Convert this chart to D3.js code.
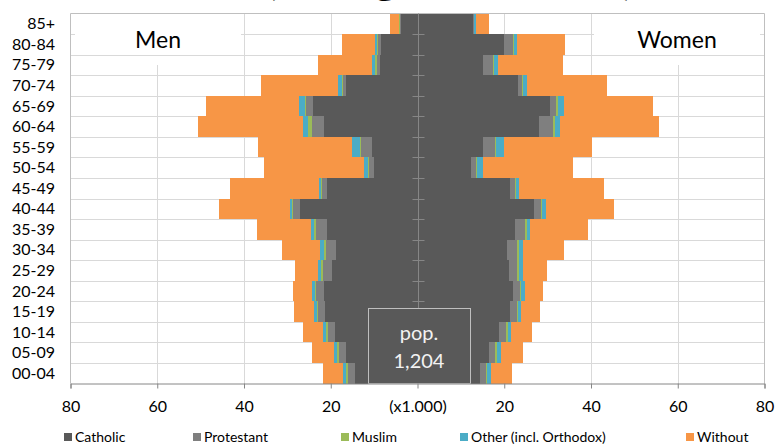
<!DOCTYPE html>
<html>
<head>
<meta charset="utf-8">
<script src="https://cdn.jsdelivr.net/npm/d3@7"></script>
<style>
	body { margin: 0; background: #fff; }
	text { font-family: Lato, "Open Sans", sans-serif; }
</style>
</head>
<body>
<div id="chart-area"></div>
<script>
/*
*    population pyramid by religion
*/
var ageGroups = ["00-04", "05-09", "10-14", "15-19", "20-24", "25-29", "30-34", "35-39", "40-44",
	"45-49", "50-54", "55-59", "60-64", "65-69", "70-74", "75-79", "80-84", "85+"];
var religions = ["Catholic", "Protestant", "Muslim", "Other (incl. Orthodox)", "Without"];
var colors = ["#595959", "#7f7f7f", "#9bbb59", "#4bacc6", "#f79646"];

// men, x 1.000
var menCatholic   = [14.3, 16.4, 19.1, 21.4, 21.6, 19.7, 18.9, 20.9, 27.0, 20.8, 10.0, 10.5, 21.6, 24.0, 16.4, 8.7, 8.5, 3.9];
var menProtestant = [1.7, 1.6, 1.55, 1.55, 1.7, 2.1, 2.15, 2.6, 1.6, 1.15, 1.15, 2.45, 2.8, 1.6, 0.85, 0.75, 0.6, 0.2];
var menMuslim     = [0.4, 0.45, 0.35, 0.3, 0.3, 0.35, 0.55, 0.4, 0.3, 0.25, 0.35, 0.4, 0.75, 0.45, 0.25, 0.25, 0.25, 0.05];
var menOther      = [0.85, 0.8, 0.8, 0.6, 0.8, 0.8, 0.85, 0.6, 0.55, 0.55, 0.8, 1.75, 1.3, 1.3, 0.85, 0.85, 0.45, 0.15];
var menWithout    = [4.5, 5.1, 4.6, 4.6, 4.3, 5.3, 8.9, 12.6, 16.4, 20.5, 23.1, 21.7, 24.2, 21.4, 17.7, 12.4, 7.5, 2.0];

// women, x 1.000
var womenCatholic   = [14.5, 16.4, 18.9, 21.4, 22.1, 21.1, 20.6, 22.4, 26.8, 21.4, 12.3, 15.0, 28.1, 30.5, 23.1, 15.2, 19.9, 12.7];
var womenProtestant = [1.2, 1.55, 1.55, 1.55, 1.55, 1.9, 2.25, 2.45, 1.7, 1.1, 1.1, 2.9, 3.2, 1.5, 1.1, 2.2, 2.15, 0.25];
var womenMuslim     = [0.4, 0.4, 0.3, 0.3, 0.25, 0.4, 0.45, 0.3, 0.15, 0.15, 0.35, 0.3, 0.3, 0.3, 0.15, 0.15, 0.15, 0.05];
var womenOther      = [0.85, 1.0, 0.9, 0.6, 0.8, 0.85, 1.1, 0.9, 0.9, 0.85, 1.25, 1.85, 1.3, 1.4, 0.85, 1.0, 0.85, 0.4];
var womenWithout    = [4.85, 4.9, 4.85, 4.5, 4.3, 5.5, 9.3, 13.2, 15.8, 19.5, 20.8, 20.1, 22.8, 20.7, 18.4, 15.0, 11.0, 3.1];

var xTicks = [-80, -60, -40, -20, 0, 20, 40, 60, 80];
var popLabel = ["pop.", "1,204"];

var width = 775, height = 445;
var plotLeft = 70.5, plotRight = 764.5, plotTop = 13.5, plotBottom = 383.5;

var svg = d3.select("#chart-area").append("svg")
		.attr("width", width)
		.attr("height", height);

var x = d3.scaleLinear()
		.domain([-80, 80])
		.range([plotLeft, plotRight]);
var y = d3.scaleBand()
		.domain(ageGroups.slice().reverse())
		.range([plotTop, plotBottom])
		.padding(0);

function table(cols) {
	return ageGroups.map((a, i) => {
		var row = {age: a};
		religions.forEach((r, j) => { row[r] = cols[j][i]; });
		return row;
	});
}
var stack = d3.stack().keys(religions);
var menStack = stack(table([menCatholic, menProtestant, menMuslim, menOther, menWithout]));
var womenStack = stack(table([womenCatholic, womenProtestant, womenMuslim, womenOther, womenWithout]));

function rowLine(d) { return Math.round(y(d) + y.bandwidth()) + 0.5; }

// title (cut off at top of picture)
svg.append("text")
		.attr("x", 267)
		.attr("y", -4)
		.attr("font-size", 30)
		.attr("font-weight", "bold")
		.attr("textLength", 366)
		.attr("lengthAdjust", "spacingAndGlyphs")
		.text("(Average 2010\u20132014)");

// grid
var grid = svg.append("g").attr("stroke", "#d9d9d9").attr("stroke-width", 1);
grid.selectAll(".hg")
	.data(ageGroups.slice(1))
	.enter().append("line")
		.attr("x1", plotLeft).attr("x2", plotRight)
		.attr("y1", rowLine)
		.attr("y2", rowLine);
grid.selectAll(".vg")
	.data([-60, -40, -20, 20, 40, 60])
	.enter().append("line")
		.attr("x1", d => Math.round(x(d)) + 0.5).attr("x2", d => Math.round(x(d)) + 0.5)
		.attr("y1", plotTop).attr("y2", plotBottom);

// white boxes behind Men / Women
svg.append("rect")
		.attr("x", 75).attr("y", 14).attr("width", 166).attr("height", 51)
		.attr("fill", "#fff");
svg.append("rect")
		.attr("x", 594).attr("y", 14).attr("width", 166).attr("height", 51)
		.attr("fill", "#fff");
svg.append("line")
		.attr("x1", plotLeft).attr("x2", plotRight)
		.attr("y1", rowLine("80-84")).attr("y2", rowLine("80-84"))
		.attr("stroke", "#d9d9d9");

// plot border
svg.append("path")
		.attr("d", "M" + plotLeft + "," + plotBottom + "V" + plotTop + "H" + plotRight + "V" + plotBottom)
		.attr("fill", "none")
		.attr("stroke", "#bfbfbf");

// bars
var bars = svg.append("g").attr("shape-rendering", "crispEdges");
bars.selectAll(".men")
	.data(menStack)
	.enter().append("g")
		.attr("fill", (d, i) => colors[i])
	.selectAll("rect")
	.data(d => d)
	.enter().append("rect")
		.attr("x", d => x(-d[1]))
		.attr("width", d => x(-d[0]) - x(-d[1]))
		.attr("y", d => y(d.data.age))
		.attr("height", y.bandwidth());
bars.selectAll(".women")
	.data(womenStack)
	.enter().append("g")
		.attr("fill", (d, i) => colors[i])
	.selectAll("rect")
	.data(d => d)
	.enter().append("rect")
		.attr("x", d => x(d[0]))
		.attr("width", d => x(d[1]) - x(d[0]))
		.attr("y", d => y(d.data.age))
		.attr("height", y.bandwidth());

// center axis
var cx = Math.round(x(0)) + 0.5;
svg.append("line")
		.attr("x1", cx).attr("x2", cx)
		.attr("y1", plotTop).attr("y2", plotBottom)
		.attr("stroke", "#868686");
svg.selectAll(".ctick")
	.data(ageGroups.slice(1))
	.enter().append("line")
		.attr("x1", cx - 6).attr("x2", cx + 6)
		.attr("y1", rowLine)
		.attr("y2", rowLine)
		.attr("stroke", "#868686");

// pop box
svg.append("rect")
		.attr("x", 368.5).attr("y", 308.5)
		.attr("width", 102).attr("height", plotBottom - 308.5)
		.attr("fill", "#595959")
		.attr("stroke", "#bfbfbf");
svg.selectAll(".pop")
	.data(popLabel)
	.enter().append("text")
		.attr("x", 419)
		.attr("y", (d, i) => 340 + i * 28)
		.attr("text-anchor", "middle")
		.attr("font-size", 20)
		.attr("fill", "#f2f2f2")
		.text(d => d);

// x axis
var xAxis = d3.axisBottom(x)
		.tickValues(xTicks)
		.tickSize(5)
		.tickPadding(12)
		.tickFormat(d => d === 0 ? "(x1.000)" : Math.abs(d));
var gx = svg.append("g")
		.attr("transform", "translate(0," + plotBottom + ")")
		.call(xAxis);
gx.select(".domain").attr("stroke", "#868686");
gx.selectAll(".tick line").attr("stroke", "#868686");
gx.selectAll(".tick text")
		.attr("font-family", "Lato, sans-serif")
		.attr("font-size", 16)
		.attr("fill", "#000");

// age labels
svg.selectAll(".age")
	.data(ageGroups)
	.enter().append("text")
		.attr("x", 55)
		.attr("y", d => y(d) + y.bandwidth() / 2)
		.attr("dy", "0.35em")
		.attr("text-anchor", "end")
		.attr("font-size", 16)
		.text(d => d);

// Men / Women
svg.append("text")
		.attr("x", 158).attr("y", 48)
		.attr("text-anchor", "middle")
		.attr("font-size", 23)
		.text("Men");
svg.append("text")
		.attr("x", 677).attr("y", 48)
		.attr("text-anchor", "middle")
		.attr("font-size", 23)
		.text("Women");

// legend
var legendX = [64, 193, 341, 460, 686];
var legend = svg.selectAll(".legend")
	.data(religions)
	.enter().append("g")
		.attr("transform", (d, i) => "translate(" + legendX[i] + ",437)");
legend.append("rect")
		.attr("x", 0).attr("y", -4)
		.attr("width", 8).attr("height", 8)
		.attr("fill", (d, i) => colors[i]);
legend.append("text")
		.attr("x", 11)
		.attr("dy", "0.35em")
		.attr("font-size", 14)
		.text(d => d);
</script>
</body>
</html>
